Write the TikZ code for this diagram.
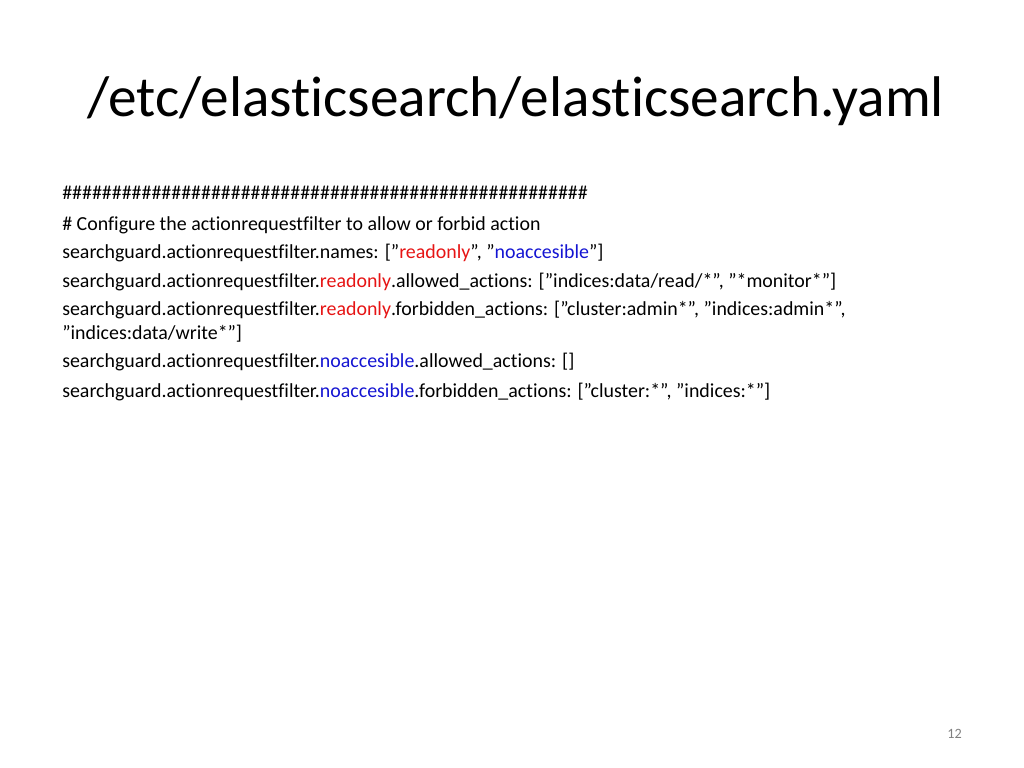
\documentclass[tikz,border=0pt]{standalone}
\usepackage{fontspec}
\setmainfont[Ligatures=NoCommon]{Carlito}
\newcommand{\qq}{\symbol{34}}
\begin{document}
\begin{tikzpicture}[x=0.703125pt,y=-0.703125pt,
  line/.style={anchor=base west,inner sep=0pt,font=\fontsize{14}{16}\selectfont}]
\definecolor{ro}{RGB}{230,20,20}
\definecolor{na}{RGB}{20,20,210}
\useasboundingbox (0,0) rectangle (1024,768);
\node[anchor=base west,inner sep=0pt,font=\fontsize{40.3}{48}\selectfont] (title) at (87,117) {/etc/elasticsearch/elasticsearch.yaml};
\node[line] (l1) at (62,200) {\#\#\#\#\#\#\#\#\#\#\#\#\#\#\#\#\#\#\#\#\#\#\#\#\#\#\#\#\#\#\#\#\#\#\#\#\#\#\#\#\#\#\#\#\#\#\#\#\#\#\#\#\#};
\node[line] (l2) at (62,231) {\# Configure the actionrequestfilter to allow or forbid action};
\node[line] (l3) at (62,259) {searchguard.actionrequestfilter.names: [\qq\textcolor{ro}{readonly}\qq, \qq\textcolor{na}{noaccesible}\qq]};
\node[line] (l4) at (62,287) {searchguard.actionrequestfilter.\textcolor{ro}{readonly}.allowed\_actions: [\qq indices:data/read/*\qq, \qq*monitor*\qq]};
\node[line] (l5) at (62,316) {searchguard.actionrequestfilter.\textcolor{ro}{readonly}.forbidden\_actions: [\qq cluster:admin*\qq, \qq indices:admin*\qq,};
\node[line] (l6) at (62,339) {\qq indices:data/write*\qq]};
\node[line] (l7) at (62,367) {searchguard.actionrequestfilter.\textcolor{na}{noaccesible}.allowed\_actions: []};
\node[line] (l8) at (62,397) {searchguard.actionrequestfilter.\textcolor{na}{noaccesible}.forbidden\_actions: [\qq cluster:*\qq, \qq indices:*\qq]};
\node[anchor=base east,inner sep=0pt,font=\fontsize{10}{12}\selectfont,text=gray] (pg) at (962,738) {12};
\end{tikzpicture}
\end{document}
